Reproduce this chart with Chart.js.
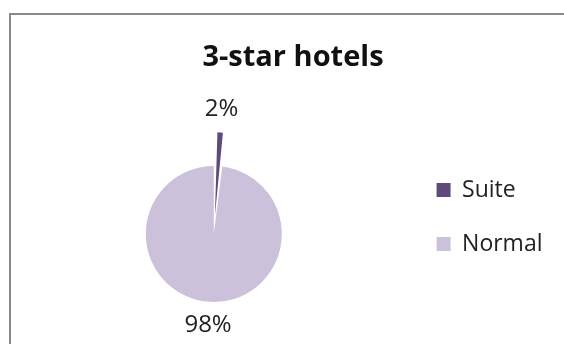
<!DOCTYPE html>
<html>
<head>
<meta charset="utf-8">
<script src="https://cdn.jsdelivr.net/npm/chart.js@4/dist/chart.umd.min.js"></script>
<style>
    html, body {margin: 0; padding: 0; background: #fff; overflow: hidden;}
    #frame {position: absolute; left: 9px; top: 13px; width: 600px; height: 400px; border: 2px solid #8a8a8a;}
    #wrap {position: absolute; left: 0; top: 0; width: 564px; height: 344px;}
</style>
</head>
<body>
<div id="frame"></div>
<div id="wrap"><canvas id="chart" width="564" height="344"></canvas></div>
<script>
const title = '3-star hotels'
const categories = ['Suite', 'Normal']
const shares = [2, 98]


// percentage labels just outside each slice, like Excel's "outside end"
const outsideLabels = {
    id: 'outsideLabels',
    afterDatasetsDraw(chart) {
        const ctx = chart.ctx
        const meta = chart.getDatasetMeta(0)
        ctx.save()
        ctx.font = "24px 'Open Sans'"
        ctx.fillStyle = '#222'
        ctx.textAlign = 'center'
        ctx.textBaseline = 'middle'
        meta.data.forEach(function (arc, i) {
            const mid = (arc.startAngle + arc.endAngle) / 2
            const offset = (arc.options.offset || 0) / 4
            const fix = 1 - Math.sin(Math.min(Math.PI, arc.circumference))
            const dist = arc.outerRadius + offset * (1 + fix) + 23
            ctx.fillText(shares[i] + '%', arc.x + Math.cos(mid) * dist, arc.y + Math.sin(mid) * dist)
        })
        ctx.restore()
    }
}

Chart.defaults.font.family = "'Open Sans'"
Chart.defaults.color = '#222'

const data = {
    labels: categories,
    datasets: [{
        data: shares,
        backgroundColor: ['#604a7b', '#ccc1da'],
        borderWidth: 0,
        offset: [72, 0],
        radius: 68,
        clip: false,
    }]
}

const config = {
    type: 'pie',
    data: data,
    options: {
        responsive: false,
        animation: false,
        events: [],
        layout: {
            padding: {left: 33.5, right: 11.5, top: 0, bottom: 23.5},
        },
        // hidden axis, only used as a gap between the pie and the legend
        scales: {
            gap: {
                type: 'linear',
                axis: 'y',
                position: 'right',
                display: false,
                afterFit: function (scale) {
                    scale.width = 11.5
                },
            },
        },
        plugins: {
            title: {
                display: true,
                text: title,
                color: '#111',
                font: {size: 29, weight: 'bold', lineHeight: 1.2},
                padding: {top: 40, bottom: 72.7},
            },
            legend: {
                position: 'right',
                align: 'start',
                fullSize: false,
                labels: {
                    boxWidth: 14,
                    boxHeight: 14,
                    padding: 31,
                    color: '#222',
                    font: {size: 23},
                },
            },
            tooltip: {enabled: false},
        },
    },
    plugins: [outsideLabels],
}

const chart = new Chart(document.querySelector('#chart'), config)
</script>
</body>
</html>
